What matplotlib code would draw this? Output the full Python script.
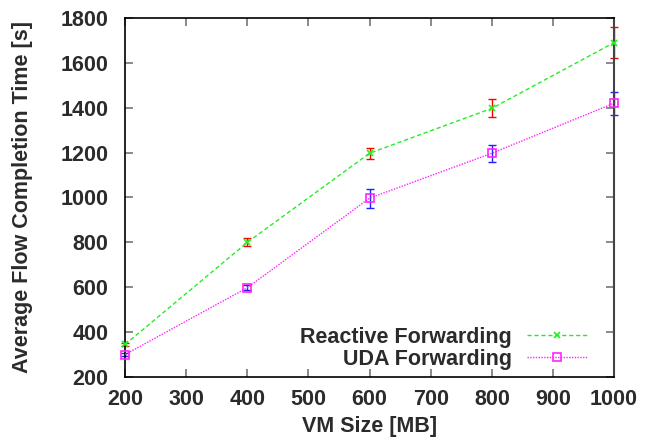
import matplotlib
matplotlib.use("Agg")
import matplotlib.pyplot as plt

plt.rcParams['font.family'] = ['Liberation Sans', 'DejaVu Sans']

vm_size = [200, 400, 600, 800, 1000]
reactive = [345, 800, 1197, 1397, 1690]
reactive_err = [8, 18, 25, 40, 68]
uda = [300, 598, 997, 1197, 1420]
uda_err = [8, 12, 42, 38, 52]

txt = '#2b2b2b'
fs = 15.5

fig = plt.figure(figsize=(6.45, 4.48), dpi=100)
ax = fig.add_axes([0.194, 0.1585, 0.758, 0.8015])

# error bars first, lines on top
ax.errorbar(vm_size, reactive, yerr=reactive_err, fmt='none', ecolor='#ff0000',
            elinewidth=1.0, capsize=3, capthick=1.0, clip_on=False, zorder=2)
ax.errorbar(vm_size, uda, yerr=uda_err, fmt='none', ecolor='#2020ff',
            elinewidth=1.0, capsize=3, capthick=1.0, clip_on=False, zorder=2)

ax.plot(vm_size, reactive, color='#22ee22', ls=(0, (3, 2)), lw=1.0,
        marker='x', ms=5, mew=1.2, clip_on=False, zorder=3,
        label='Reactive Forwarding')
ax.plot(vm_size, uda, color='#ff22ff', ls=(0, (1, 1)), lw=1.0,
        marker='s', ms=6, mfc='none', mew=1.2, clip_on=False, zorder=3,
        label='UDA Forwarding')

ax.set_xlim(200, 1000)
ax.set_ylim(200, 1800)
ax.set_xticks(range(200, 1001, 100))
ax.set_yticks(range(200, 1801, 200))

ax.tick_params(direction='in', length=6, width=1.2, color='#777777',
               top=True, right=True, labelsize=fs, labelcolor=txt)
ax.tick_params(axis='x', pad=9)
ax.tick_params(axis='y', pad=12)
for lab in ax.get_xticklabels() + ax.get_yticklabels():
    lab.set_fontweight('bold')
for s in ['left', 'bottom', 'top']:
    ax.spines[s].set_color('black')
    ax.spines[s].set_linewidth(1.2)
ax.spines['right'].set_color('#444444')
ax.spines['right'].set_linewidth(1.5)

ax.set_xlabel('VM Size [MB]', fontsize=fs, color=txt, fontweight='bold', labelpad=4)
ax.set_ylabel('Average Flow Completion Time [s]', fontsize=fs, color=txt,
              fontweight='bold', labelpad=20)

leg = ax.legend(loc='lower right', bbox_to_anchor=(0.945, 0.02),
                markerfirst=False, frameon=False, handlelength=2.8,
                handletextpad=0.7, labelspacing=0.05, borderaxespad=0,
                borderpad=0, prop={'weight': 'bold', 'size': fs})
for t in leg.get_texts():
    t.set_color(txt)
    t.set_ha('right')

fig.savefig('out.png', dpi=100)
